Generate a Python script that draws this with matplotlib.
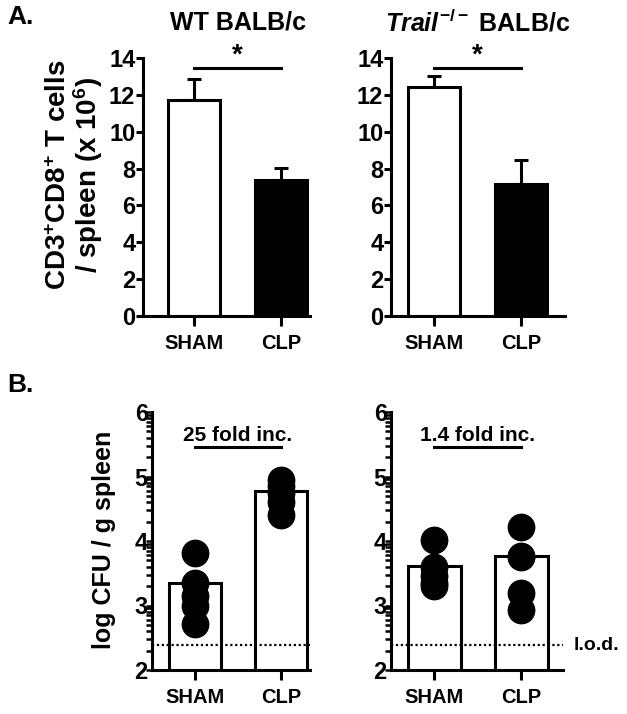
import numpy as np
import matplotlib
matplotlib.use('Agg')
import matplotlib.pyplot as plt

plt.rcParams['font.family'] = 'Liberation Sans'
plt.rcParams['font.weight'] = 'bold'
plt.rcParams['axes.labelweight'] = 'bold'
plt.rcParams['mathtext.fontset'] = 'custom'
plt.rcParams['mathtext.rm'] = 'Liberation Sans:bold'
plt.rcParams['mathtext.bf'] = 'Liberation Sans:bold'
plt.rcParams['mathtext.it'] = 'Liberation Sans:bold:italic'

groups = ['SHAM', 'CLP']

# panel A: CD3+CD8+ T cells per spleen (x 10^6)
wt_cells = [11.7, 7.4]
wt_cells_err = [1.15, 0.65]
trail_cells = [12.45, 7.15]
trail_cells_err = [0.6, 1.3]

# panel B: log CFU / g spleen
wt_cfu_bar = [3.35, 4.77]
wt_cfu_sham = [3.82, 3.35, 3.15, 3.0, 2.72]
wt_cfu_clp = [4.95, 4.85, 4.75, 4.6, 4.4]
trail_cfu_bar = [3.62, 3.77]
trail_cfu_sham = [4.02, 3.6, 3.45, 3.3, 3.35]
trail_cfu_clp = [4.22, 3.77, 3.75, 3.2, 2.93]
lod = 2.39

W, H = 627, 714
fig = plt.figure(figsize=(W / 100, H / 100), dpi=100)


def box(x0, x1, ybot, ytop):
    return [x0 / W, 1 - ybot / H, (x1 - x0) / W, (ybot - ytop) / H]


def style(ax):
    for s in ['top', 'right']:
        ax.spines[s].set_visible(False)
    for s in ['left', 'bottom']:
        ax.spines[s].set_linewidth(2.2)
    ax.tick_params(width=2.2, length=5, labelsize=17, pad=0.5)
    ax.set_xticks([0, 1])
    ax.set_xticklabels(groups, fontsize=14.5)
    ax.tick_params(axis='x', length=7, pad=6)


# ---- panel A ----
axA = [fig.add_axes(box(143, 310, 316, 58)), fig.add_axes(box(391, 565, 316, 58))]
xlimsA = [(-0.586, 1.333), (-0.494, 1.506)]
for ax, vals, errs, xl in zip(axA, [wt_cells, trail_cells], [wt_cells_err, trail_cells_err], xlimsA):
    ax.bar([0, 1], vals, width=0.6, color=['white', 'black'], edgecolor='black',
           linewidth=2.2, zorder=2)
    ax.errorbar([0, 1], vals, yerr=[[0, 0], errs], fmt='none', ecolor='black',
                elinewidth=2.2, capsize=5, capthick=2.2, zorder=1)
    ax.set_ylim(0, 14)
    ax.set_yticks(range(0, 15, 2))
    ax.set_xlim(*xl)
    style(ax)
    ax.plot([0, 1], [13.45, 13.45], color='black', lw=2.2, clip_on=False)
    ax.text(0.5, 13.45, '*', ha='center', va='bottom', fontsize=20, clip_on=False)

fig.text(75.5 / W, 1 - 175 / H, 'CD3$^{+}$CD8$^{+}$ T cells\n/ spleen (x 10$^{6}$)',
         rotation=90, ha='center', va='center', fontsize=20, linespacing=1.0)
fig.text(238 / W, 1 - 23 / H, 'WT BALB/c', ha='center', va='center', fontsize=18)
fig.text(478 / W, 1 - 23 / H, r'$\mathit{Trail}^{-/-}$ BALB/c', ha='center',
         va='center', fontsize=18)
fig.text(7 / W, 1 - 17 / H, 'A.', ha='left', va='center', fontsize=19)

# ---- panel B ----
axB = [fig.add_axes(box(152, 310, 670, 412)), fig.add_axes(box(391, 563, 670, 412))]
xlimsB = [(-0.5, 1.34), (-0.5, 1.48)]
pts = [[wt_cfu_sham, wt_cfu_clp], [trail_cfu_sham, trail_cfu_clp]]
labels = ['25 fold inc.', '1.4 fold inc.']
minor = [n + np.log10(k) for n in range(2, 6) for k in range(2, 10)]
for ax, vals, p, xl, lab in zip(axB, [wt_cfu_bar, trail_cfu_bar], pts, xlimsB, labels):
    ax.bar([0, 1], vals, width=0.61, bottom=0, color='white', edgecolor='black',
           linewidth=2.2, zorder=2)
    for i in range(2):
        ax.plot([i] * len(p[i]), p[i], 'o', color='black', ms=19, zorder=3)
    ax.set_ylim(2, 6)
    ax.set_yticks([2, 3, 4, 5, 6])
    ax.set_yticks(minor, minor=True)
    ax.set_xlim(*xl)
    style(ax)
    ax.tick_params(axis='y', which='both', length=4, width=1.8, pad=-1)
    ax.axhline(lod, color='black', lw=1.6, ls=(0, (1, 1.2)), zorder=4)
    ax.plot([0, 1], [5.45, 5.45], color='black', lw=2.2)
    ax.text(0.5, 5.64, lab, ha='center', va='center', fontsize=15)

fig.text(104 / W, 1 - 540 / H, 'log CFU / g spleen', rotation=90, ha='center',
         va='center', fontsize=18)
fig.text(574 / W, 1 - 645 / H, 'l.o.d.', ha='left', va='center', fontsize=14)
fig.text(7 / W, 1 - 385 / H, 'B.', ha='left', va='center', fontsize=19)

fig.savefig('out.png', dpi=100)
